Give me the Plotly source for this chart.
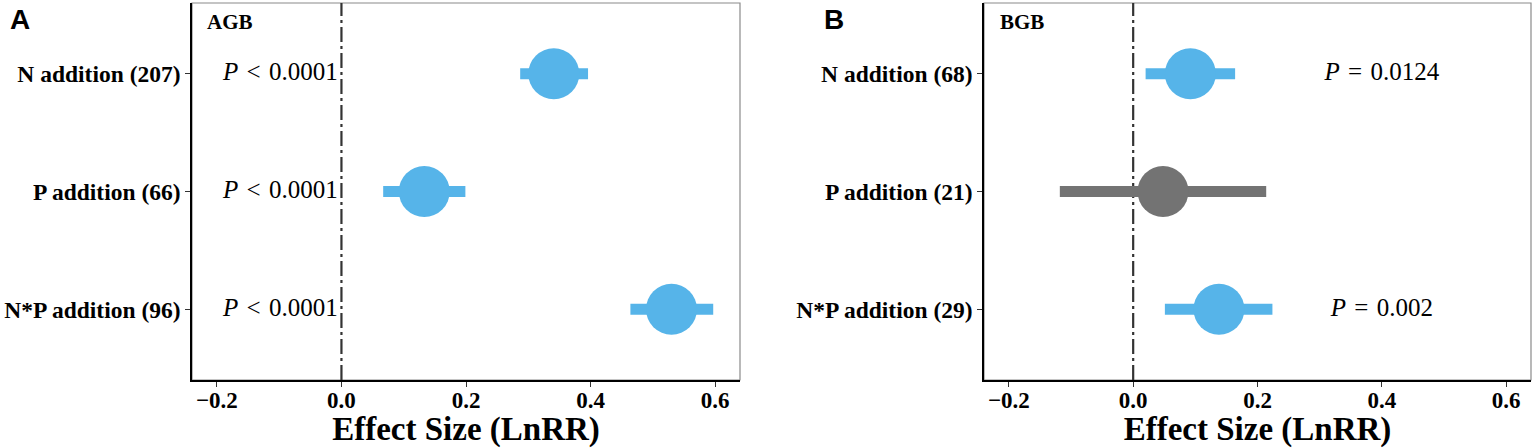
import plotly.graph_objects as go

# panel A - aboveground biomass
agb_labels = ["N addition (207)", "P addition (66)", "N*P addition (96)"]
agb_mean = [0.341, 0.133, 0.530]
agb_lo = [0.287, 0.067, 0.464]
agb_hi = [0.396, 0.199, 0.597]
agb_sig = [True, True, True]
agb_p = ["<i>P</i>\u2004&lt;\u20040.0001"] * 3

# panel B - belowground biomass
bgb_labels = ["N addition (68)", "P addition (21)", "N*P addition (29)"]
bgb_mean = [0.092, 0.048, 0.138]
bgb_lo = [0.020, -0.118, 0.051]
bgb_hi = [0.164, 0.214, 0.224]
bgb_sig = [True, False, True]
bgb_p = ["<i>P</i>\u2004=\u20040.0124", "", "<i>P</i>\u2004=\u20040.002"]

x_ticks = [-0.2, 0.0, 0.2, 0.4, 0.6]

BLUE = "#56B4E9"
GREY = "#737373"
SERIF = "Liberation Serif"

fig = go.Figure()


def add_panel(xa, ya, labels, mean, lo, hi, sig, ptext, pos, anchor):
    for lab, m, l, h, s in zip(labels, mean, lo, hi, sig):
        col = BLUE if s else GREY
        fig.add_trace(go.Scatter(
            x=[m], y=[lab], mode="markers", xaxis=xa, yaxis=ya,
            marker=dict(size=51, color=col, line=dict(width=0)),
            error_x=dict(type="data", symmetric=False, array=[h - m], arrayminus=[m - l],
                         thickness=11, width=0, color=col),
            showlegend=False, hoverinfo="skip"))
    fig.add_trace(go.Scatter(
        x=[pos] * len(labels), y=labels, mode="text", text=ptext, xaxis=xa, yaxis=ya,
        textposition=anchor, textfont=dict(family=SERIF, size=25, color="black"),
        showlegend=False, hoverinfo="skip"))


add_panel("x", "y", agb_labels, agb_mean, agb_lo, agb_hi, agb_sig, agb_p, -0.006, "middle left")
add_panel("x2", "y2", bgb_labels, bgb_mean, bgb_lo, bgb_hi, bgb_sig, bgb_p, 0.40, "middle center")

xstyle = dict(range=[-0.24, 0.64], tickvals=x_ticks, tickformat=".1f",
              ticks="outside", ticklen=5, tickwidth=1.2, tickcolor="#333333",
              showline=True, linecolor="black", linewidth=1.5,
              showgrid=False, zeroline=False, automargin=False,
              ticklabelstandoff=-6,
              tickfont=dict(family=SERIF, size=23, color="black", weight="bold"),
              title=dict(text="Effect Size (LnRR)", standoff=0,
                         font=dict(family=SERIF, size=33, color="black", weight="bold")))
ystyle = dict(range=[-0.6, 2.6], type="category", categoryorder="array",
              ticks="outside", ticklen=5, tickwidth=1.2, tickcolor="#333333",
              showline=True, linecolor="black", linewidth=1.5,
              showgrid=False, zeroline=False, automargin=False,
              tickfont=dict(family=SERIF, size=23.5, color="black", weight="bold"))

fig.update_layout(
    width=1535, height=448,
    margin=dict(l=0, r=0, t=0, b=0),
    plot_bgcolor="white", paper_bgcolor="white",
    xaxis=dict(domain=[192 / 1535, 740 / 1535], anchor="y", **xstyle),
    yaxis=dict(domain=[68 / 448, 445 / 448], anchor="x",
               categoryarray=agb_labels[::-1], **ystyle),
    xaxis2=dict(domain=[984 / 1535, 1531 / 1535], anchor="y2", **xstyle),
    yaxis2=dict(domain=[68 / 448, 445 / 448], anchor="x2",
                categoryarray=bgb_labels[::-1], **ystyle),
)

for xa, ya in [("x", "y"), ("x2", "y2")]:
    # grey panel border
    fig.add_shape(type="rect", xref=xa + " domain", yref=ya + " domain",
                  x0=0, x1=1, y0=0, y1=1, line=dict(color="#8a8a8a", width=1.2), layer="below")
    # zero line
    fig.add_shape(type="line", xref=xa, yref=ya + " domain", x0=0, x1=0, y0=0, y1=1,
                  line=dict(color="#333333", width=2.2, dash="15px,4px,3px,4px"), layer="below")

for txt, xp in [("A", 8), ("B", 822)]:
    fig.add_annotation(text="<b>" + txt + "</b>", xref="paper", yref="paper",
                       x=xp / 1535, y=1 - 20 / 448, xanchor="left", yanchor="middle",
                       showarrow=False, font=dict(family="Liberation Sans", size=28, color="black"))
for txt, xp in [("AGB", 205), ("BGB", 998)]:
    fig.add_annotation(text="<b>" + txt + "</b>", xref="paper", yref="paper",
                       x=xp / 1535, y=1 - 22 / 448, xanchor="left", yanchor="middle",
                       showarrow=False, font=dict(family=SERIF, size=21, color="black"))

# drop the default page margin so the figure sits at the window corner
fig.write_html("out.html", config={"displayModeBar": False},
               post_script="document.body.style.margin='0';")
